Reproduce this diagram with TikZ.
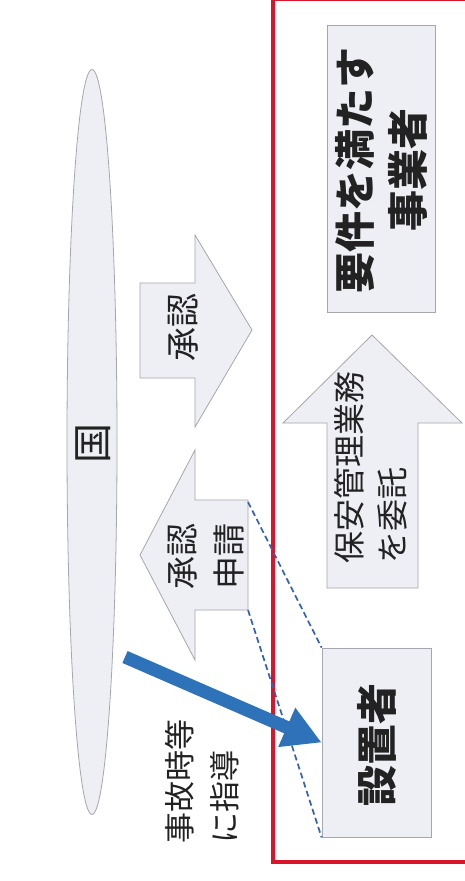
\documentclass[tikz,border=0pt]{standalone}
\usepackage{fontspec}
\newfontfamily\jp{Noto Sans CJK JP}
\usetikzlibrary{arrows.meta,shapes.geometric}
\definecolor{shapefill}{HTML}{EEEFF5}
\definecolor{shapeline}{HTML}{A6A6AE}
\definecolor{redframe}{HTML}{D9142B}
\definecolor{guideblue}{HTML}{2E72BA}
\definecolor{dashblue}{HTML}{3463B0}
\definecolor{inktext}{HTML}{222222}
\begin{document}
\begin{tikzpicture}[x=1pt,y=-1pt,
  blockshape/.style={fill=shapefill,draw=shapeline,line width=0.8pt},
  boxnode/.style={blockshape,rectangle,inner sep=0pt},
  vtext/.style={rotate=90,inner sep=0pt,text=inktext},
  regtext/.style={vtext,font=\jp\fontsize{32}{45}\selectfont},
  boldtext/.style={vtext,font=\jp\bfseries\fontsize{41}{53}\selectfont},
  dashline/.style={draw=dashblue,line width=1.7pt,dash pattern=on 6pt off 3.5pt},
  guidearrow/.style={draw=guideblue,line width=13pt,-{Triangle[length=38pt,width=40pt]}},
  frame/.style={draw=redframe,line width=4pt}
]
\useasboundingbox (0,0) rectangle (464,881);
\fill[white] (0,0) rectangle (464,881);

% red frame
\draw[frame] (273,-1) rectangle (470,862);

% ellipse (country)
\node[ellipse,blockshape,minimum width=50pt,minimum height=745pt,inner sep=0pt] (guo) at (92,442) {};
\node[regtext,font=\jp\fontsize{40}{48}\selectfont] (guolabel) at (93,443) {国};

% approval arrow (pointing right)
\draw[blockshape] (140,283) -- (195,283) -- (195,235) -- (252,330) -- (195,427) -- (195,378) -- (140,378) -- cycle;
\node[regtext,font=\jp\fontsize{34}{46}\selectfont] (approve) at (183,327) {承認};

% application arrow (pointing left)
\draw[blockshape] (248,500) -- (195,500) -- (195,450) -- (140,555) -- (195,660) -- (195,610) -- (248,610) -- cycle;
\coordinate (appNE) at (248,502);
\coordinate (appSE) at (248,610);
\node[regtext,align=center,font=\jp\fontsize{33}{47}\selectfont] (apply) at (206,556) {承認\\申請};

% delegation arrow (pointing up)
\draw[blockshape] (327,588) -- (327,423) -- (283,423) -- (372,335) -- (462,423) -- (418,423) -- (418,588) -- cycle;
\node[regtext,align=left,font=\jp\fontsize{32}{43}\selectfont] (delegate) at (371,467) {保安管理業務\\を委託};

% boxes
\node[boxnode,minimum width=108pt,minimum height=287pt] (qualified) at (381,168.5) {};
\node[boldtext,align=center] (qualifiedlabel) at (381,170) {要件を満たす\\事業者};
\node[boxnode,minimum width=109pt,minimum height=189pt] (setchi) at (376.5,742.5) {};
\node[boldtext] (setchilabel) at (377,745) {設置者};

% dashed guide lines
\draw[dashline] (appNE) -- (setchi.north west);
\draw[dashline] (appSE) -- (setchi.south west);

% guidance arrow
\coordinate (guidestart) at (125,657);
\draw[guidearrow] (guidestart) -- (setchi.west);
\node[regtext,align=left,font=\jp\fontsize{31}{45}\selectfont] (guidance) at (202,781) {事故時等\\に指導};
\end{tikzpicture}
\end{document}
